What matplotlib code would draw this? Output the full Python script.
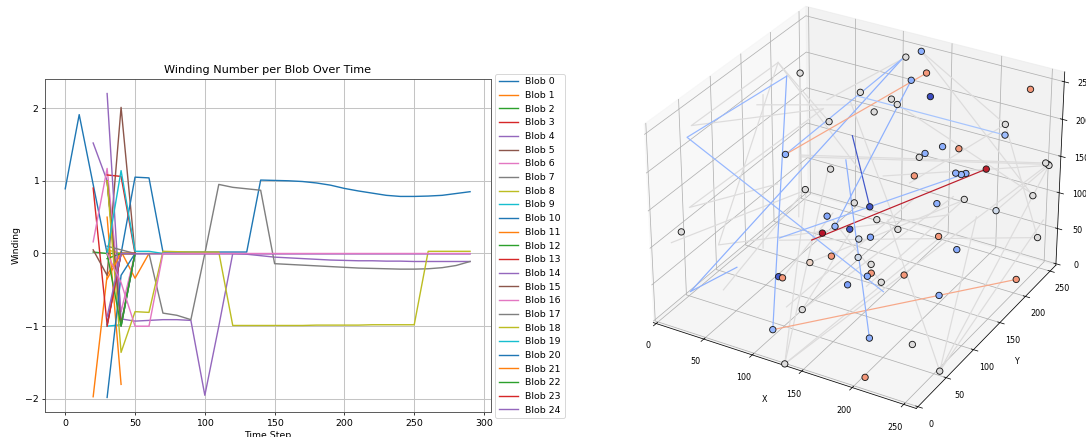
import numpy as np
import matplotlib
matplotlib.use("Agg")
import matplotlib.pyplot as plt

DPI = 67.3
W, H = 1086, 437

# ---- winding number per blob: (first time step, values every 10 steps) ----
blob_series = {
 0: (0, [0.89, 1.91, 0.95, 0.0]),
 1: (20, [-1.97, -0.3, 0.03, -0.34, 0.0, 0.0, 0.0, 0.0, 0.0, 0.0]),
 2: (20, [0.02, 0.0, 0.0, 0.0]),
 3: (20, [0.9, -0.98, 0.0, 0.0]),
 4: (20, [1.52, 1.0, -1.0, 0.0]),
 5: (20, [0.05, -0.3, 2.01, 0.0]),
 6: (20, [0.16, 1.17, -0.8, 0.0]),
 7: (30, [1.0, -1.0, 0.0]),
 8: (30, [0.05, 0.0, 0.0]),
 9: (30, [-1.0, -0.98, 0.0]),
 10: (30, [-0.98, 0.0, 1.05, 1.04, 0.02, 0.02, 0.02, 0.02, 0.02, 0.02, 0.02, 1.01, 1.005, 1.0, 0.99, 0.97, 0.94, 0.895, 0.86, 0.83, 0.80, 0.785, 0.785, 0.79, 0.80, 0.825, 0.85]),
 11: (30, [0.5, -1.8]),
 12: (30, [-0.07, 0.0, 0.0]),
 13: (30, [1.08, 1.06, 0.0]),
 14: (30, [2.2, -0.9, -0.93, -0.92, -0.91, -0.91, -0.92, -1.95, -1.0, 0.0, -0.01, -0.03, -0.05, -0.06, -0.07, -0.08, -0.09, -0.095, -0.10, -0.10, -0.105, -0.105, -0.11, -0.11, -0.11, -0.11, -0.11]),
 15: (30, [1.0, -0.97, 0.0]),
 16: (30, [0.0, -0.4, -1.0, -1.0, 0.0] + [0.0]*22),
 17: (30, [0.1, 0.05, 0.0, 0.0, -0.82, -0.85, -0.91, 0.0, 0.95, 0.91, 0.89, 0.87, -0.14, -0.15, -0.16, -0.17, -0.18, -0.19, -0.20, -0.205, -0.21, -0.215, -0.215, -0.21, -0.195, -0.165, -0.11]),
 18: (30, [1.0, -1.36, -0.8, -0.81, 0.03, 0.025, 0.02, 0.02, 0.02, -0.99, -0.99, -0.99, -0.99, -0.99, -0.99, -0.985, -0.985, -0.985, -0.985, -0.98, -0.98, -0.98, -0.98, 0.03, 0.03, 0.03, 0.03]),
 19: (30, [0.0, 1.14, 0.03, 0.03, 0.0]),
 20: (30, [-1.98, -0.3, 0.0]),
 21: (30, [-0.35, 0.0, 0.0]),
 22: (30, [0.0, -1.0, 0.0]),
 23: (30, [-1.0, 0.0, 0.0]),
 24: (30, [-0.87, 0.0, -0.006] + [-0.006]*24),
}

# ---- blob positions at the last frame ----
point_x = [128,115,139,129,31,240,154,88,120,126,108,73,224,224,183,194,171,168,70,253,253,254,98,214,194,197,199,166,96,244,198,181,128,138,220,109,148,120,135,161,113,15,248,186,147,153,202,128,155,112,168,171,170,187,181,92,96,156,245,214,125,107,195,226,128,253,208]
point_y = [245,240,235,225,195,240,215,205,205,205,195,175,225,225,185,195,175,170,105,250,255,255,135,210,190,195,200,165,95,245,200,180,125,135,220,110,130,105,105,145,95,20,250,175,100,110,180,85,85,75,85,80,75,110,80,55,55,65,215,125,40,20,35,55,5,55,5]
point_z = [250,241,231,224,218,241,217,206,208,203,193,180,199,185,180,175,173,170,179,143,138,137,151,146,146,142,141,148,149,99,106,107,124,116,86,109,106,103,105,88,98,112,40,68,100,98,53,80,89,72,85,78,77,61,70,59,59,67,5,34,39,19,34,24,-7,0,10]
point_w = [-1,0,1,-1,0,1,-2,0,0,0,0,0,0,-0.8,-1,1,-1,0,-1,0,0,0,0,1.9,-1,-0.9,-1,1,0,0,0,-1,0,-1.9,-0.2,-1.1,0,-0.9,-1.9,0,1.95,0,0,1,-0.2,-1.1,-1.05,1,-0.2,0.25,0,1,-1.05,1,0,-1.85,1,-1.2,1,-1,0,-0.9,-1,0,0,0,1]

# ---- blob trajectories: (winding, [(x, y, z), ...]) ----
coloured_paths = [
 (-1.0, [(52,50,59),(22,20,35),(111,240,237)]),
 (-0.9, [(111,240,237),(70,105,179)]),
 (-0.9, [(26,180,221),(18,30,229),(186,75,63)]),
 (-1.0, [(26,180,221),(107,20,19)]),
 (0.85, [(139,235,231),(70,105,179)]),
 (0.85, [(107,20,19),(245,215,5)]),
 (1.9, [(214,210,146),(105,90,89)]),
 (-0.9, [(199,200,141),(78,80,88)]),
 (-0.7, [(223,220,189),(89,200,204)]),
 (-1.9, [(100,170,174),(138,135,116)]),
 (-1.0, [(102,155,152),(195,35,34)]),
 (-1.0, [(129,225,224),(120,105,103)]),
]
grey_paths = [
 [(14,185,232),(16,40,237),(61,185,187)],
 [(32,120,221),(93,195,197)],
 [(14,185,232),(73,175,180)],
 [(14,185,232),(119,150,148)],
 [(31,195,218),(92,90,115)],
 [(29,135,224),(67,70,77)],
 [(61,185,187),(21,25,143),(77,80,159)],
 [(11,10,103),(97,95,149)],
 [(188,190,88),(40,40,91),(14,185,232)],
 [(47,35,37),(96,95,149)],
 [(77,120,169),(253,255,138)],
 [(76,120,171),(253,250,143)],
 [(143,150,149),(254,255,137)],
 [(128,245,250),(224,225,199),(248,250,40)],
 [(128,245,250),(244,245,99)],
 [(253,55,0),(254,255,137)],
 [(253,55,0),(151,145,97)],
 [(253,55,0),(208,205,83)],
 [(253,55,0),(253,250,66)],
 [(128,5,-7),(97,95,149)],
 [(128,5,-7),(96,135,153)],
 [(128,5,-7),(253,255,138)],
 [(128,5,-7),(187,170,67)],
 [(125,40,39),(192,190,114)],
 [(109,40,36),(165,165,116)],
 [(112,75,72),(200,195,109)],
 [(248,250,40),(78,80,85)],
 [(220,220,86),(254,255,137)],
 [(161,145,88),(80,200,196)],
 [(198,200,106),(172,70,68)],
 [(59,195,192),(115,240,241)],
 [(125,40,39),(136,110,105)],
 [(96,55,59),(112,115,111)],
 [(181,80,70),(115,110,106)],
 [(224,225,199),(164,160,141)],
 [(126,205,203),(248,245,99)],
]

def rescale_z(z):
    # the z values above were read against a box spanning -1..258
    return (np.asarray(z, float) + 1) * 265 / 259 - 2

fig = plt.figure(figsize=(W/DPI, H/DPI), dpi=DPI)
ax = fig.add_axes([45/W, 1-412/H, 446/W, 333/H])
for b in range(25):
    start, vals = blob_series[b]
    ax.plot(start + 10*np.arange(len(vals)), vals, label=f"Blob {b}")
ax.lines[16].set_zorder(3)
ax.set_title("Winding Number per Blob Over Time")
ax.set_xlabel("Time Step")
ax.set_ylabel("Winding")
ax.grid(True, color="#c4c4c4", linewidth=1.1)
for s in ax.spines.values():
    s.set_color("#555555"); s.set_linewidth(1.0)
ax.set_xlim(-14.5, 305)
ax.set_ylim(-2.18, 2.4)
ax.legend(loc="upper left", bbox_to_anchor=(0.999, 1.03))

ax3 = fig.add_axes([(852-234)/W, 1-(204+234)/H, 468/W, 468/H], projection="3d")
cmap = plt.get_cmap("coolwarm")
norm = plt.Normalize(-2, 2)
for path in grey_paths:
    xs, ys, zs = zip(*path)
    ax3.plot(xs, ys, rescale_z(zs), color=cmap(norm(0)), lw=1.3)
for w, path in coloured_paths:
    xs, ys, zs = zip(*path)
    ax3.plot(xs, ys, rescale_z(zs), color=cmap(norm(w)), lw=1.3)
ax3.scatter(point_x, point_y, rescale_z(point_z), c=point_w, cmap=cmap, norm=norm, s=46,
            edgecolors="#1a1a1a", linewidths=0.95, depthshade=False, alpha=1)
ax3.set_xlim(-3, 262); ax3.set_ylim(-3, 262); ax3.set_zlim(-2, 263)
ax3.set_xticks(range(0, 300, 50)); ax3.set_yticks(range(0, 300, 50)); ax3.set_zticks(range(0, 300, 50))
ax3.tick_params(axis="x", labelsize=8.6, pad=6)
ax3.tick_params(axis="y", labelsize=8.6, pad=4.5)
ax3.tick_params(axis="z", labelsize=8.6, pad=5.5)
ax3.set_xlabel("X", fontsize=8.6, labelpad=6); ax3.set_ylabel("Y", fontsize=8.6, labelpad=6)
fig.savefig("out.png", dpi=DPI)
